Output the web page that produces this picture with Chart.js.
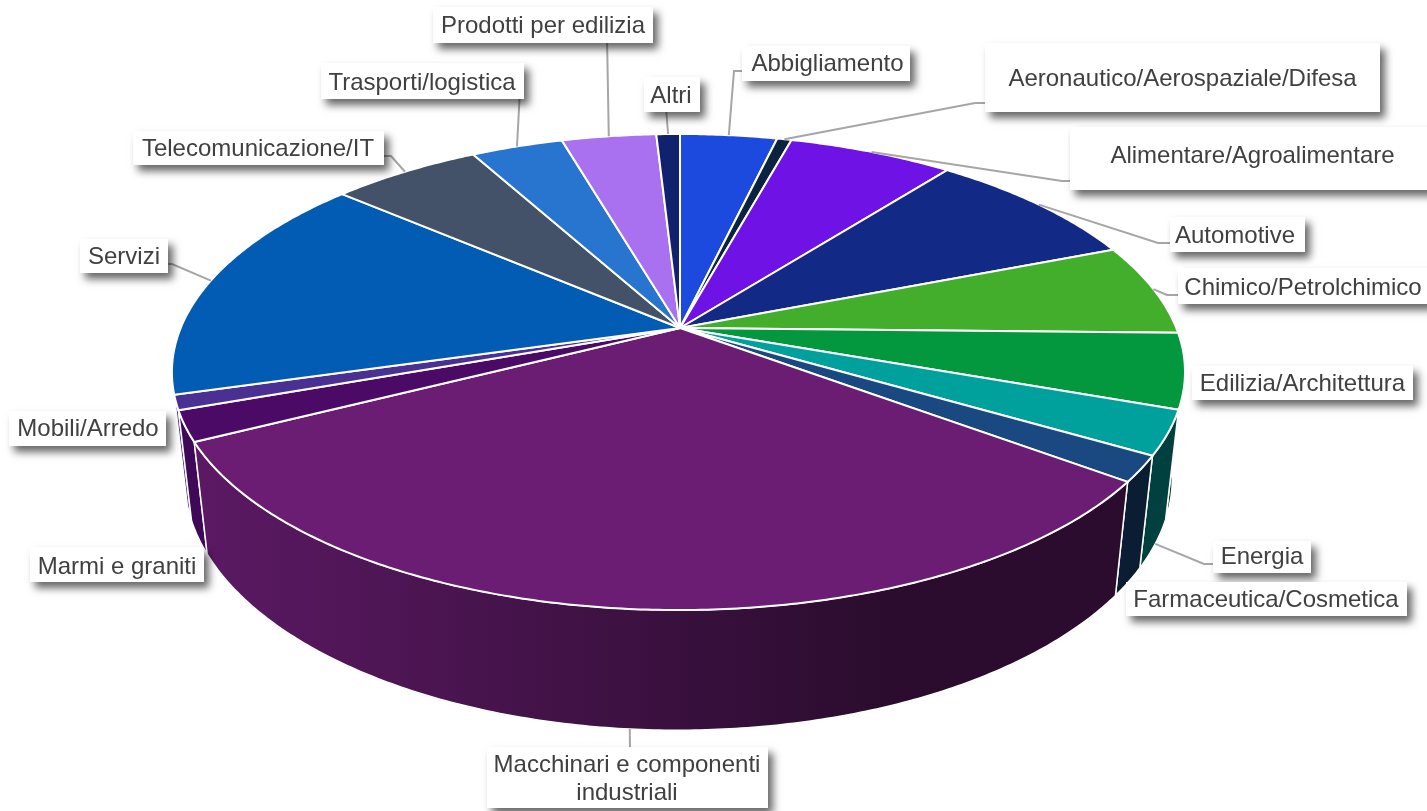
<!DOCTYPE html>
<html>
<head>
<meta charset="utf-8">
<title>Settori</title>
<script src="https://cdn.jsdelivr.net/npm/chart.js@4"></script>
<style>
    html, body { margin: 0; padding: 0; background: #fff; overflow: hidden; }
    canvas { display: block; }
</style>
</head>
<body>
<canvas id="pieChart" width="1427" height="811"></canvas>
<script>
const categories = [
    'Abbigliamento', 'Aeronautico/Aerospaziale/Difesa', 'Alimentare/Agroalimentare', 'Automotive',
    'Chimico/Petrolchimico', 'Edilizia/Architettura', 'Energia', 'Farmaceutica/Cosmetica',
    'Macchinari e componenti industriali', 'Marmi e graniti', 'Mobili/Arredo', 'Servizi',
    'Telecomunicazione/IT', 'Trasporti/logistica', 'Prodotti per edilizia', 'Altri'
];
const shares = [3.7, 0.55, 6.3, 8.5, 6.25, 5.1, 3.0, 1.75, 32.3, 2.05, 1.0, 15.7, 5.7, 3.5, 3.6, 0.9];
const colors = [
    '#1c4ade', '#0c2340', '#6f12e6', '#122a85', '#43ae2b', '#03973e', '#00a19c', '#1a4880',
    '#6b1d74', '#4a0a66', '#4a3092', '#025cb4', '#435269', '#2775cf', '#a970f0', '#10226e'
];

// label boxes: x, y, w, h, then text centre and leader line waypoints (screen px)
const labelBoxes = [
    { x: 742, y: 46, w: 168, h: 35, cx: 827.5, cy: 64.5, line: [[734, 71], [746, 71]] },
    { x: 985, y: 43, w: 395, h: 69, cx: 1182.5, cy: 79.5, line: [[975, 103], [988, 103]] },
    { x: 1070, y: 127, w: 360, h: 63, cx: 1252.5, cy: 156.5, line: [[1062, 181], [1073, 181]] },
    { x: 1170, y: 217, w: 135, h: 35, cx: 1235, cy: 236.5, line: [[1158, 243], [1172, 243]] },
    { x: 1178, y: 268, w: 252, h: 36, cx: 1303, cy: 288.5, line: [[1167, 295], [1182, 295]] },
    { x: 1192, y: 366, w: 221, h: 34, cx: 1302.5, cy: 384.5 },
    { x: 1213, y: 541, w: 98, h: 32, cx: 1262, cy: 557, line: [[1204, 564], [1216, 564]], onBase: true },
    { x: 1126, y: 582, w: 281, h: 34, cx: 1266, cy: 600.5 },
    { x: 487, y: 747, w: 281, h: 61, cx: 627, cy: 765, line: [[630, 750]], onBase: true, lines: ['Macchinari e componenti', 'industriali'] },
    { x: 30, y: 547, w: 174, h: 35, cx: 117, cy: 567.5 },
    { x: 9, y: 411, w: 157, h: 35, cx: 88, cy: 429.5 },
    { x: 80, y: 239, w: 88, h: 34, cx: 124, cy: 257, line: [[172, 264], [164, 264]] },
    { x: 133, y: 131, w: 251, h: 34, cx: 258, cy: 149.5, line: [[391, 156], [380, 156]] },
    { x: 321, y: 63, w: 203, h: 36, cx: 422, cy: 83.5, line: [[520, 90]] },
    { x: 433, y: 7, w: 220, h: 36, cx: 543, cy: 26.5, line: [[607, 38]] },
    { x: 644, y: 77, w: 56, h: 35, cx: 671, cy: 96.5, line: [[666, 108]] }
];

// perspective of the disc, worked out from the rim of the picture
const apexX = 680;
const apexY = 328;
const radiusX = 497.8;
const radiusY = 229.9;
const tilt = 0.1849;
const skew = 0.003;
const depthY = 108;
const depthW = 0.025;

function project(angle, base) {
    const u = Math.cos(angle);
    const v = Math.sin(angle);
    const w = 1 - tilt * v + skew * u + (base ? depthW : 0);
    return {
        x: apexX + radiusX * u / w,
        y: apexY + (radiusY * v + (base ? depthY : 0)) / w
    };
}

function traceRim(ctx, from, to, base) {
    const steps = Math.max(2, Math.ceil(Math.abs(to - from) / 0.01));
    for (let i = 0; i <= steps; i++) {
        const p = project(from + (to - from) * i / steps, base);
        ctx.lineTo(p.x, p.y);
    }
}

function shade(hex, factor) {
    const n = parseInt(hex.slice(1), 16);
    const r = Math.round((n >> 16 & 255) * factor);
    const g = Math.round((n >> 8 & 255) * factor);
    const b = Math.round((n & 255) * factor);
    return `rgb(${r}, ${g}, ${b})`;
}

const pie3d = {
    id: 'pie3d',
    beforeDatasetDraw(chart, args) {
        const ctx = chart.ctx;
        const arcs = chart.getDatasetMeta(args.index).data;
        const walls = arcs.map((arc, i) => i).sort((a, b) =>
            Math.sin((arcs[a].startAngle + arcs[a].endAngle) / 2) - Math.sin((arcs[b].startAngle + arcs[b].endAngle) / 2));

        ctx.save();
        ctx.lineJoin = 'round';

        // side wall
        for (const i of walls) {
            const arc = arcs[i];
            const gradient = ctx.createLinearGradient(200, 0, 880, 0);
            gradient.addColorStop(0, shade(colors[i], 0.85));
            gradient.addColorStop(1, shade(colors[i], 0.4));
            ctx.beginPath();
            traceRim(ctx, arc.startAngle, arc.endAngle, false);
            traceRim(ctx, arc.endAngle, arc.startAngle, true);
            ctx.closePath();
            ctx.fillStyle = gradient;
            ctx.fill();
            ctx.strokeStyle = '#fff';
            ctx.lineWidth = 1.5;
            ctx.stroke();
        }

        // top face
        arcs.forEach((arc, i) => {
            ctx.beginPath();
            ctx.moveTo(apexX, apexY);
            traceRim(ctx, arc.startAngle, arc.endAngle, false);
            ctx.closePath();
            ctx.fillStyle = colors[i];
            ctx.fill();
            ctx.strokeStyle = '#fff';
            ctx.lineWidth = 2;
            ctx.stroke();
        });

        ctx.restore();
        return false;
    },
    afterDatasetsDraw(chart) {
        const ctx = chart.ctx;
        const arcs = chart.getDatasetMeta(0).data;

        ctx.save();
        labelBoxes.forEach((box, i) => {
            if (!box.line) {
                return;
            }
            const start = project((arcs[i].startAngle + arcs[i].endAngle) / 2, box.onBase);
            ctx.beginPath();
            ctx.moveTo(start.x, start.y);
            box.line.forEach(p => ctx.lineTo(p[0], p[1]));
            ctx.strokeStyle = '#a6a6a6';
            ctx.lineWidth = 2;
            ctx.stroke();
        });

        ctx.font = '24px "Liberation Sans", Arial, sans-serif';
        ctx.textAlign = 'center';
        ctx.textBaseline = 'middle';
        labelBoxes.forEach((box, i) => {
            ctx.save();
            ctx.shadowColor = 'rgba(0, 0, 0, 0.6)';
            ctx.shadowBlur = 8;
            ctx.shadowOffsetX = 5;
            ctx.shadowOffsetY = 6;
            ctx.fillStyle = '#fff';
            ctx.fillRect(box.x, box.y, box.w, box.h);
            ctx.restore();
            ctx.fillStyle = '#404040';
            const lines = box.lines || [chart.data.labels[i]];
            lines.forEach((text, n) => ctx.fillText(text, box.cx, box.cy + n * 28));
        });
        ctx.restore();
    }
};

const ctx = document.getElementById('pieChart').getContext('2d');
new Chart(ctx, {
    type: 'pie',
    data: {
        labels: categories,
        datasets: [{ data: shares, backgroundColor: colors }]
    },
    options: {
        responsive: false,
        animation: false,
        plugins: {
            legend: { display: false },
            tooltip: { enabled: false }
        }
    },
    plugins: [pie3d]
});
</script>
</body>
</html>
